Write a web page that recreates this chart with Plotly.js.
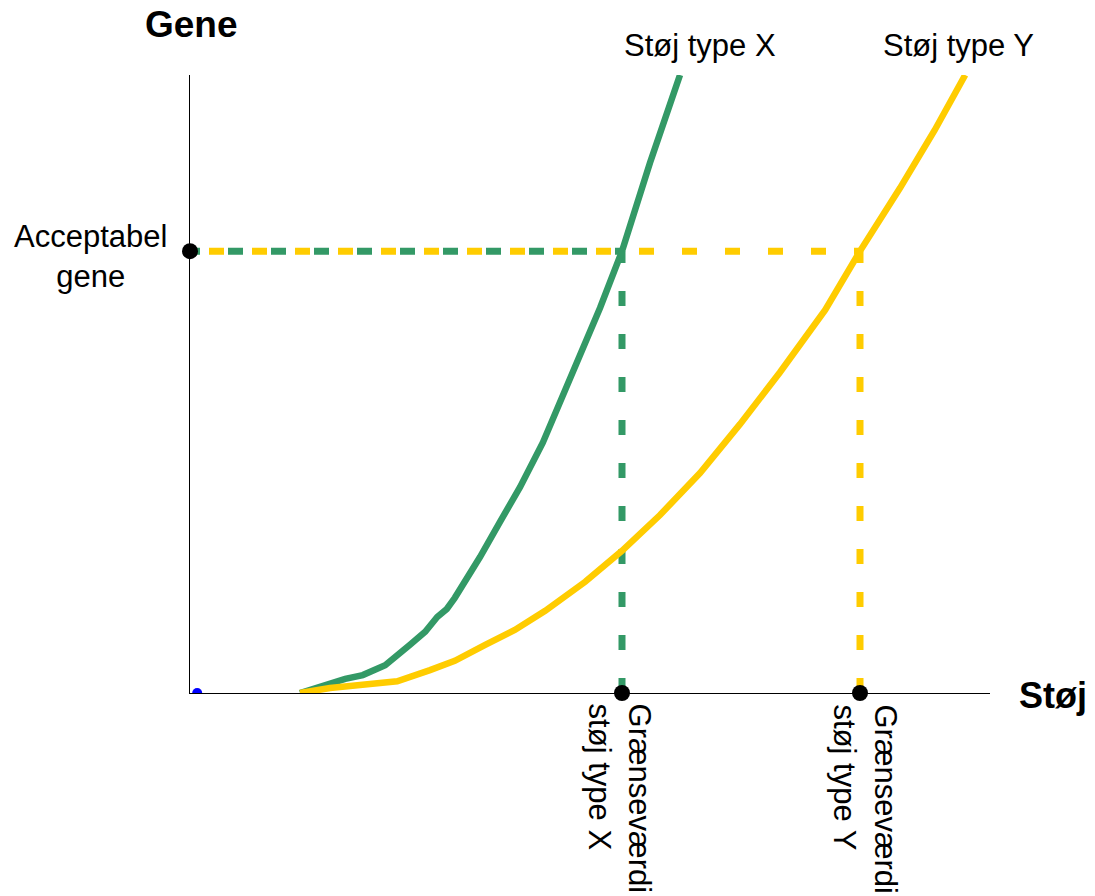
<!DOCTYPE html>
<html>
<head>
<meta charset="utf-8">
<script src="https://cdn.plot.ly/plotly-3.0.1.min.js"></script>
<style>html,body{margin:0;padding:0;background:#fff;}#chart{width:1095px;height:896px;}</style>
</head>
<body>
<div id="chart"></div>
<script>
// Støj (x) and gene (y) on an arbitrary 0-100 scale
const stojX = [13.75, 19.4, 21.6, 24.4, 27.5, 29.4, 30.9, 32.1, 33.1, 34.4, 36.25, 38.75, 41.25, 44.1, 47.5, 51.25, 54, 57.5, 61.25];
const geneX = [0, 2.3, 2.9, 4.5, 7.8, 9.9, 12.3, 13.6, 15.4, 18.1, 22.0, 27.7, 33.3, 40.5, 50.6, 62.3, 71.5, 85.8, 100];
const stojY = [13.75, 17.5, 21.25, 25.9, 30, 33.1, 36.9, 40.6, 44.4, 49.4, 54, 58.75, 63.75, 68.75, 73.75, 79.4, 83.75, 88.75, 93.1, 96.9];
const geneY = [0, 0.8, 1.3, 1.9, 3.7, 5.2, 7.8, 10.2, 13.3, 18.0, 23.0, 28.8, 35.6, 43.5, 51.9, 62.0, 71.5, 81.7, 91.1, 100];

const acceptabelGene = 71.5;
const graenseX = 54;
const graenseY = 83.75;

const GREEN = '#339966';
const YELLOW = '#FFCC00';
const FONT = 'Liberation Sans, Arial, sans-serif';

const traces = [
  // horizontal dashed line (yellow to type Y limit)
  {x: [0, graenseY], y: [acceptabelGene, acceptabelGene], mode: 'lines',
   line: {color: YELLOW, width: 7, dash: '0px,19px,15px,9px'}, hoverinfo: 'skip'},
  // horizontal dashed line (green to type X limit)
  {x: [0, graenseX], y: [acceptabelGene, acceptabelGene], mode: 'lines',
   line: {color: GREEN, width: 7, dash: '10px,28px,5px,0px'}, hoverinfo: 'skip'},
  // vertical dashed lines
  {x: [graenseX, graenseX], y: [0, acceptabelGene], mode: 'lines',
   line: {color: GREEN, width: 7, dash: '15px,28px'}, hoverinfo: 'skip'},
  {x: [graenseY, graenseY], y: [0, acceptabelGene], mode: 'lines',
   line: {color: YELLOW, width: 7, dash: '15px,28px'}, hoverinfo: 'skip'},
  // curves
  {x: stojX, y: geneX, mode: 'lines', line: {color: GREEN, width: 6.5}, name: 'Støj type X'},
  {x: stojY, y: geneY, mode: 'lines', line: {color: YELLOW, width: 6.5}, name: 'Støj type Y'},
  // small blue point at origin
  {x: [0.9], y: [0], mode: 'markers', marker: {color: '#0000FF', size: 10}, hoverinfo: 'skip'},
  // black dots
  {x: [0, graenseX, graenseY], y: [acceptabelGene, 0, 0], mode: 'markers',
   marker: {color: '#000', size: 16}, cliponaxis: false, hoverinfo: 'skip'}
];

const annotations = [
  {text: '<b>Gene</b>', xref: 'paper', yref: 'paper', x: 0.0015, y: 1.0817, xanchor: 'center', yanchor: 'middle',
   showarrow: false, font: {family: FONT, size: 37, color: '#000'}},
  {text: '<b>Støj</b>', xref: 'paper', yref: 'paper', x: 1.0788, y: -0.004, xanchor: 'center', yanchor: 'middle',
   showarrow: false, font: {family: FONT, size: 36, color: '#000'}},
  {text: 'Støj type X', xref: 'paper', yref: 'paper', x: 0.6375, y: 1.0485, xanchor: 'center', yanchor: 'middle',
   showarrow: false, font: {family: FONT, size: 31, color: '#000'}},
  {text: 'Støj type Y', xref: 'paper', yref: 'paper', x: 0.961, y: 1.0485, xanchor: 'center', yanchor: 'middle',
   showarrow: false, font: {family: FONT, size: 31, color: '#000'}},
  {text: 'Acceptabel<br>gene', xref: 'paper', yref: 'paper', x: -0.125, y: 0.7071, xanchor: 'center', yanchor: 'middle',
   align: 'center', showarrow: false, font: {family: FONT, size: 31, color: '#000'}},
  {text: 'Grænseværdi<br>støj type X', xref: 'paper', yref: 'paper', x: 0.538, y: -0.0146, xanchor: 'center', yanchor: 'top',
   align: 'left', textangle: 90, showarrow: false, font: {family: FONT, size: 31, color: '#000'}},
  {text: 'Grænseværdi<br>støj type Y', xref: 'paper', yref: 'paper', x: 0.8444, y: -0.0146, xanchor: 'center', yanchor: 'top',
   align: 'left', textangle: 90, showarrow: false, font: {family: FONT, size: 31, color: '#000'}}
];

const layout = {
  width: 1095, height: 896, autosize: false,
  margin: {l: 190, r: 105, t: 75, b: 203, pad: 0},
  paper_bgcolor: '#fff', plot_bgcolor: '#fff',
  showlegend: false,
  xaxis: {range: [0, 100], showline: true, linecolor: '#000', linewidth: 1, showgrid: false, zeroline: false,
          ticks: '', showticklabels: false, fixedrange: true},
  yaxis: {range: [0, 100], showline: true, linecolor: '#000', linewidth: 1, showgrid: false, zeroline: false,
          ticks: '', showticklabels: false, fixedrange: true},
  annotations: annotations
};

Plotly.newPlot('chart', traces, layout, {displayModeBar: false, staticPlot: true});
</script>
</body>
</html>
